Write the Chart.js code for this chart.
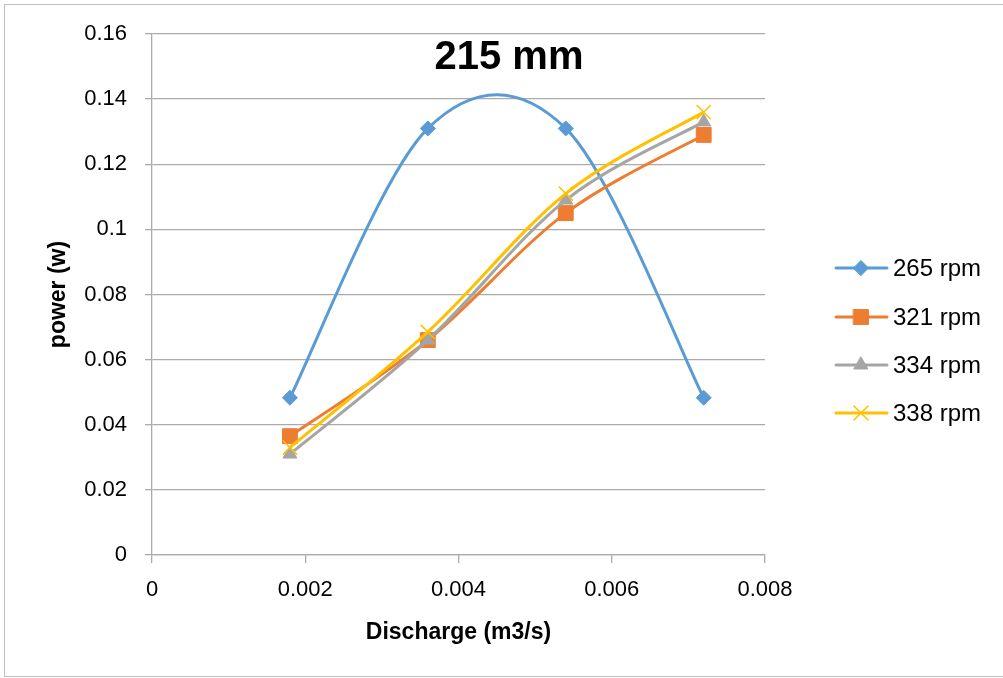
<!DOCTYPE html>
<html>
<head>
<meta charset="utf-8">
<script src="https://cdn.jsdelivr.net/npm/chart.js@4/dist/chart.umd.min.js"></script>
<style>
  html, body { margin: 0; padding: 0; background: #fff; }
  #wrap { width: 1003px; height: 678px; }
</style>
</head>
<body>
<div id="wrap"><canvas id="c" width="1003" height="678"></canvas></div>
<script>
// ===== Data =====
const discharge = [0.0018, 0.0036, 0.0054, 0.0072];
const rpm265 = [0.0483, 0.131, 0.131, 0.0483];
const rpm321 = [0.0365, 0.066, 0.105, 0.129];
const rpm334 = [0.031, 0.066, 0.109, 0.133];
const rpm338 = [0.033, 0.0685, 0.111, 0.136];
const seriesLabels = ['265 rpm', '321 rpm', '334 rpm', '338 rpm'];
const chartTitle = '215 mm';

const FONT = '"Liberation Sans", Arial, sans-serif';
const GRID = '#ababab';

const points = (ys) => discharge.map((x, i) => ({ x, y: ys[i] }));

// ── Series styles ──────────────────────────────────────────────────────────
const STYLES = [
  { color: '#5b9bd5', pointStyle: 'rectRot', radius: 7.5, pointBorder: 1 },
  { color: '#ed7d31', pointStyle: 'rect',    radius: 10.5, pointBorder: 1 },
  { color: '#a5a5a5', pointStyle: 'triangle', radius: 8, pointBorder: 1 },
  { color: '#ffc000', pointStyle: 'crossRot', radius: 10, pointBorder: 1.5 },
];

const datasets = [rpm265, rpm321, rpm334, rpm338].map((ys, i) => ({
  label: seriesLabels[i],
  data: points(ys),
  showLine: true,
  tension: 0.4,
  borderColor: STYLES[i].color,
  backgroundColor: STYLES[i].color,
  borderWidth: 3,
  pointStyle: STYLES[i].pointStyle,
  pointRadius: STYLES[i].radius,
  pointHoverRadius: STYLES[i].radius,
  pointBorderWidth: STYLES[i].pointBorder,
  pointBackgroundColor: STYLES[i].color,
  pointBorderColor: STYLES[i].color,
  order: 3 - i,
}));

// ── Plugins: smoothing, frame, title, legend ──────────────────────────────
// Spreadsheet-style smoothing: Catmull-Rom control points (1/6 of the
// neighbour span) instead of Chart.js's distance-weighted tension.
const smoothPlugin = {
  id: 'catmullRom',
  beforeDatasetDraw(chart, args) {
    const line = args.meta.dataset;
    if (!line) return;
    line.updateControlPoints(chart.chartArea, 'x');
    const pts = line.points;
    pts.forEach((p, i) => {
      const prev = pts[i - 1] || p;
      const next = pts[i + 1] || p;
      const dx = (next.x - prev.x) / 6;
      const dy = (next.y - prev.y) / 6;
      p.cp1x = p.x - dx; p.cp1y = p.y - dy;
      p.cp2x = p.x + dx; p.cp2y = p.y + dy;
    });
  },
};

const framePlugin = {
  id: 'frame',
  beforeDraw(chart) {
    const ctx = chart.ctx;
    ctx.save();
    ctx.fillStyle = '#fff';
    ctx.fillRect(0, 0, chart.width, chart.height);
    ctx.strokeStyle = '#bfbfbf';
    ctx.lineWidth = 1;
    ctx.strokeRect(4.5, 4.5, 1010, 672);
    ctx.restore();
  },
};

const titlePlugin = {
  id: 'overTitle',
  afterDraw(chart) {
    const ctx = chart.ctx;
    ctx.save();
    ctx.font = 'bold 40px ' + FONT;
    ctx.fillStyle = '#000';
    ctx.textAlign = 'center';
    ctx.textBaseline = 'alphabetic';
    ctx.fillText(chartTitle, 509, 69);
    ctx.restore();
  },
};

const legendPlugin = {
  id: 'sideLegend',
  afterDraw(chart) {
    const ctx = chart.ctx;
    const ys = [268, 317, 365, 413];
    ctx.save();
    chart.data.datasets.forEach((ds, i) => {
      const y = ys[i];
      ctx.strokeStyle = ds.borderColor;
      ctx.lineWidth = 3;
      ctx.lineCap = 'round';
      ctx.beginPath();
      ctx.moveTo(836, y);
      ctx.lineTo(887, y);
      ctx.stroke();
      ctx.fillStyle = ds.pointBackgroundColor;
      ctx.strokeStyle = ds.pointBorderColor;
      ctx.lineWidth = ds.pointBorderWidth;
      Chart.helpers.drawPoint(ctx, {
        pointStyle: ds.pointStyle,
        radius: ds.pointRadius,
        rotation: 0,
        borderWidth: ds.pointBorderWidth,
      }, 861, y);
      ctx.fillStyle = '#000';
      ctx.font = '24px ' + FONT;
      ctx.textAlign = 'left';
      ctx.textBaseline = 'middle';
      ctx.fillText(ds.label, 893, y + 1);
    });
    ctx.restore();
  },
};

// ── Chart ─────────────────────────────────────────────────────────────────
new Chart(document.getElementById('c'), {
  type: 'scatter',
  data: { datasets },
  options: {
    responsive: false,
    animation: false,
    events: [],
    layout: { padding: { left: 40, top: 34, right: 238, bottom: 30 } },
    plugins: { legend: { display: false }, tooltip: { enabled: false }, title: { display: false } },
    scales: {
      x: {
        type: 'linear',
        min: 0,
        max: 0.008,
        afterFit(scale) { scale.height = 93; },
        ticks: {
          stepSize: 0.002,
          color: '#000',
          font: { family: FONT, size: 22 },
          padding: 14,
          maxRotation: 0,
          callback: (v) => String(+v.toFixed(3)),
        },
        grid: { drawOnChartArea: false, drawTicks: true, tickLength: 8, color: GRID, lineWidth: 1.3 },
        border: { color: GRID, width: 1.3 },
        title: {
          display: true,
          text: 'Discharge (m3/s)',
          color: '#000',
          font: { family: FONT, size: 23, weight: 'bold' },
          padding: { top: 0, bottom: 2 },
        },
      },
      y: {
        min: 0,
        max: 0.16,
        afterFit(scale) { scale.width = 112; },
        ticks: {
          stepSize: 0.02,
          color: '#000',
          font: { family: FONT, size: 22 },
          padding: 18,
          callback: (v) => String(+v.toFixed(2)),
        },
        grid: { color: GRID, lineWidth: 1.3, tickLength: 7 },
        border: { color: GRID, width: 1.3 },
        title: {
          display: true,
          text: 'power (w)',
          color: '#000',
          font: { family: FONT, size: 23, weight: 'bold' },
          padding: { top: 5, bottom: 0 },
        },
      },
    },
  },
  plugins: [smoothPlugin, framePlugin, titlePlugin, legendPlugin],
});
</script>
</body>
</html>
